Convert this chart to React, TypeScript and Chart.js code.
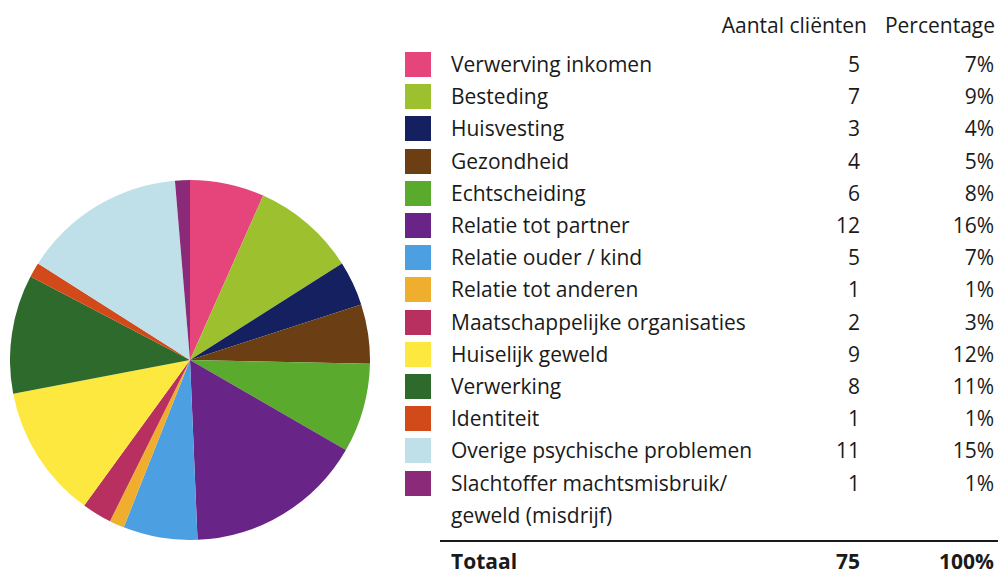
import React, { useEffect, useRef } from "react";
import { Chart, registerables } from "chart.js";

Chart.register(...registerables);

const categories = [
  "Verwerving inkomen",
  "Besteding",
  "Huisvesting",
  "Gezondheid",
  "Echtscheiding",
  "Relatie tot partner",
  "Relatie ouder / kind",
  "Relatie tot anderen",
  "Maatschappelijke organisaties",
  "Huiselijk geweld",
  "Verwerking",
  "Identiteit",
  "Overige psychische problemen",
  "Slachtoffer machtsmisbruik/\ngeweld (misdrijf)",
];
const clients = [5, 7, 3, 4, 6, 12, 5, 1, 2, 9, 8, 1, 11, 1];
const percentages = ["7%", "9%", "4%", "5%", "8%", "16%", "7%", "1%", "3%", "12%", "11%", "1%", "15%", "1%"];
const colors = [
  "#E5457A",
  "#9DC02E",
  "#14205F",
  "#6B3E14",
  "#5AAA2E",
  "#682486",
  "#4C9FE0",
  "#F0AE2E",
  "#B83060",
  "#FDE83F",
  "#2E6A2B",
  "#D24A1A",
  "#BFE0E8",
  "#8A2A78",
];
const headerClients = "Aantal cliënten";
const headerPercent = "Percentage";
const totalLabel = "Totaal";
const totalClients = "75";
const totalPercent = "100%";

const FONT = "'Open Sans', 'Noto Sans', sans-serif";
const ROW_H = 32.2;
const ROW_TOP = 48;

export default function App() {
  const canvasRef = useRef<HTMLCanvasElement | null>(null);

  useEffect(() => {
    if (!canvasRef.current) return;
    const chart = new Chart(canvasRef.current, {
      type: "pie",
      data: {
        labels: categories,
        datasets: [
          {
            data: clients,
            backgroundColor: colors,
            borderWidth: 0,
          },
        ],
      },
      options: {
        animation: false,
        responsive: false,
        layout: { padding: 0 },
        plugins: { legend: { display: false }, tooltip: { enabled: false } },
      },
    });
    return () => chart.destroy();
  }, []);

  const textStyle: React.CSSProperties = {
    position: "absolute",
    fontFamily: FONT,
    fontSize: 21,
    color: "#1a1a1a",
    whiteSpace: "nowrap",
    lineHeight: `${ROW_H}px`,
  };

  const rows: React.ReactNode[] = [];
  categories.forEach((cat, i) => {
    const top = ROW_TOP + i * ROW_H;
    const lines = cat.split("\n");
    rows.push(
      <div
        key={`sw${i}`}
        style={{
          position: "absolute",
          left: 405,
          top: top + 4,
          width: 26,
          height: 25,
          background: colors[i],
        }}
      />
    );
    lines.forEach((ln, j) => {
      rows.push(
        <div key={`l${i}-${j}`} style={{ ...textStyle, left: 451, top: top + j * ROW_H }}>
          {ln}
        </div>
      );
    });
    rows.push(
      <div key={`c${i}`} style={{ ...textStyle, right: 998 - 860, top, textAlign: "right" }}>
        {clients[i]}
      </div>
    );
    rows.push(
      <div key={`p${i}`} style={{ ...textStyle, right: 998 - 994, top, textAlign: "right" }}>
        {percentages[i]}
      </div>
    );
  });

  return (
    <div
      style={{
        position: "absolute",
        left: 0,
        top: 0,
        width: 998,
        height: 569,
        background: "#ffffff",
        overflow: "hidden",
      }}
    >
      <div style={{ position: "absolute", left: 10, top: 180, width: 360, height: 360 }}>
        <canvas ref={canvasRef} width={360} height={360} />
      </div>
      <div style={{ ...textStyle, right: 998 - 867, top: 9, textAlign: "right" }}>{headerClients}</div>
      <div style={{ ...textStyle, right: 998 - 995, top: 9, textAlign: "right" }}>{headerPercent}</div>
      {rows}
      <div
        style={{
          position: "absolute",
          left: 440,
          top: 540,
          width: 558,
          height: 2,
          background: "#1a1a1a",
        }}
      />
      <div style={{ ...textStyle, left: 451, top: 545, fontWeight: 700 }}>{totalLabel}</div>
      <div style={{ ...textStyle, right: 998 - 860, top: 545, fontWeight: 700, textAlign: "right" }}>
        {totalClients}
      </div>
      <div style={{ ...textStyle, right: 998 - 994, top: 545, fontWeight: 700, textAlign: "right" }}>
        {totalPercent}
      </div>
    </div>
  );
}
